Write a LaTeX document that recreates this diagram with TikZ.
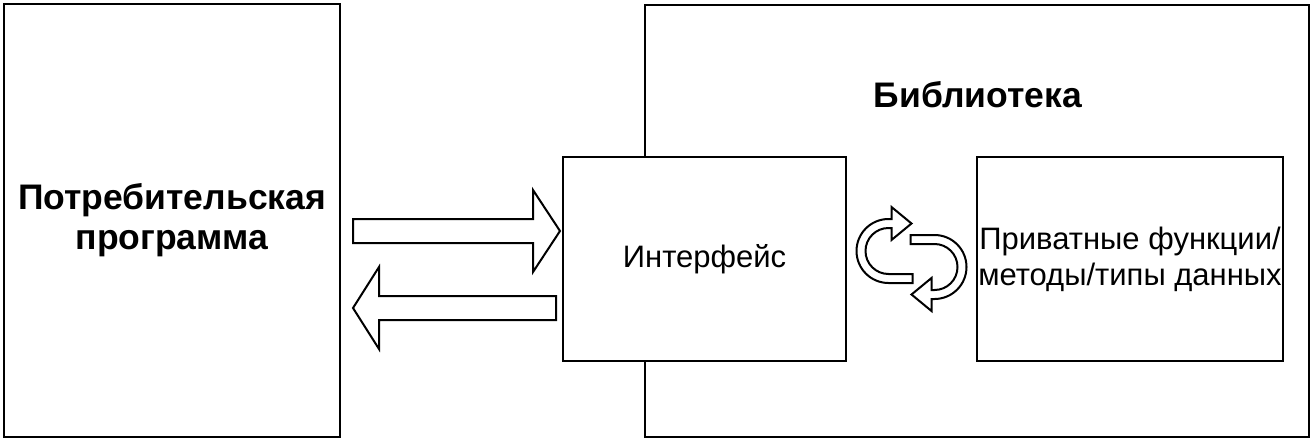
\documentclass[tikz,border=0pt]{standalone}
\usepackage{fontspec}
\setmainfont{Liberation Sans}
\usetikzlibrary{calc}

\begin{document}
\begin{tikzpicture}[x=1pt,y=-1pt,
    box/.style={draw,line width=2pt,fill=white,inner sep=0pt,align=center},
    boldtext/.style={font=\fontsize{35.5}{40}\selectfont\bfseries},
    plaintext/.style={font=\fontsize{31}{36}\selectfont},
    bigarrow/.style={draw,line width=2pt,fill=white,line join=miter}]
    \useasboundingbox (0,0) rectangle (1314,444);
    \node (prog) at (172,220.5) [box,boldtext,minimum width=336pt,minimum height=433pt] {Потребительская\\программа};
    \node (lib) at (977,221) [box,minimum width=664pt,minimum height=432pt] {};
    \node (title) at (978,95) [boldtext] {Библиотека};
    \node (iface) at (704.5,259) [box,plaintext,minimum width=283pt,minimum height=204pt] {Интерфейс};
    \node (priv) at (1130,259) [box,plaintext,minimum width=306pt,minimum height=204pt] {Приватные функции/\\методы/типы данных};
    % block arrows between the program and the interface
    \coordinate (ra) at ($(prog.east |- 0,231)+(12,0)$);
    \coordinate (rb) at ($(iface.west |- 0,231)+(-2,0)$);
    \draw[bigarrow] ($(ra)+(0,-12)$) -- ($(rb)+(-27,-12)$) -- ($(rb)+(-27,-41)$) -- (rb)
      -- ($(rb)+(-27,41)$) -- ($(rb)+(-27,12)$) -- ($(ra)+(0,12)$) -- cycle;
    \coordinate (la) at ($(iface.west |- 0,308)+(-6,0)$);
    \coordinate (lb) at ($(prog.east |- 0,308)+(12,0)$);
    \draw[bigarrow] ($(la)+(0,-12)$) -- ($(lb)+(26,-12)$) -- ($(lb)+(26,-41)$) -- (lb)
      -- ($(lb)+(26,41)$) -- ($(lb)+(26,12)$) -- ($(la)+(0,12)$) -- cycle;
    % cycle between interface and private part
    \coordinate (loop) at ($(iface.east)!0.5!(priv.west)$);
    \foreach \r in {0,180} {
      \draw[bigarrow,shift={(loop)},rotate=\r]
        (1,24) -- (-23,24) arc[start angle=90,end angle=270,radius=32]
        -- (-20,-40) -- (-20,-52) -- (0,-35.5) -- (-20,-19) -- (-20,-31) -- (-23,-31)
        arc[start angle=270,end angle=90,radius=23] -- (1,15) -- cycle;
    }
\end{tikzpicture}
\end{document}
